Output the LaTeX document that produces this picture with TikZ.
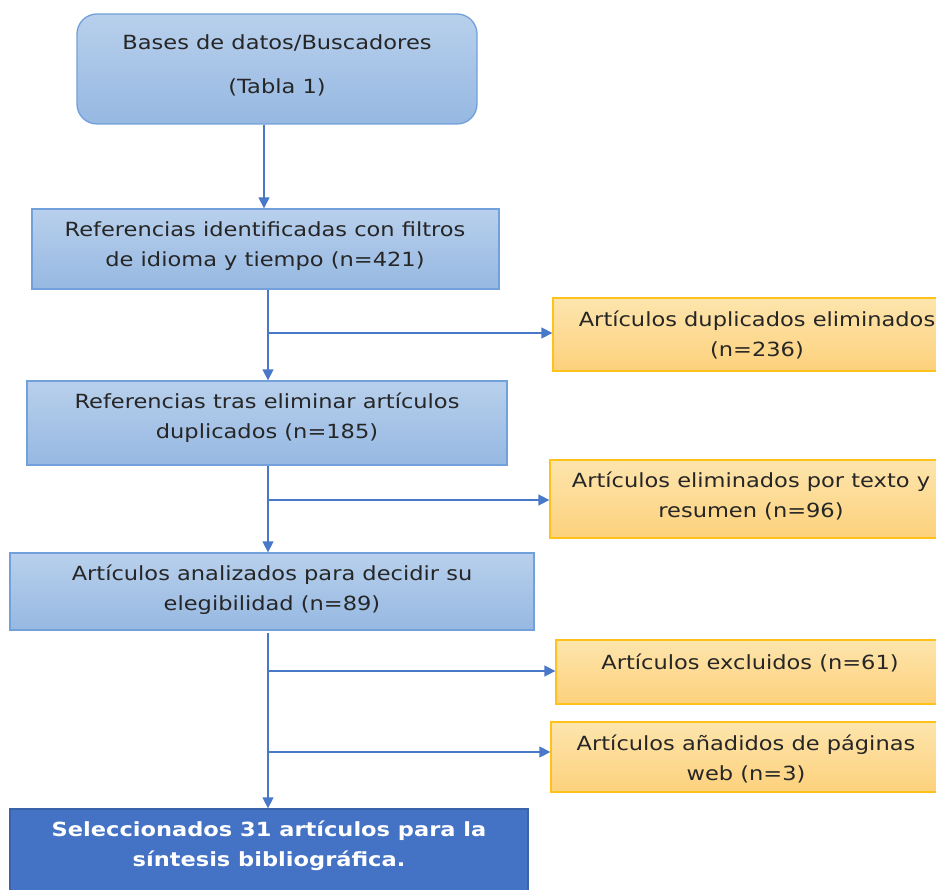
\documentclass[tikz,border=0pt]{standalone}
\usepackage{fontspec}
\setmainfont[FakeStretch=1.155]{DejaVu Sans}
\usetikzlibrary{arrows.meta}
\definecolor{bluefillA}{HTML}{B8D0EC}
\definecolor{bluefillB}{HTML}{96B8E2}
\definecolor{blueline}{HTML}{72A0DA}
\definecolor{orfillA}{HTML}{FDE5AD}
\definecolor{orfillB}{HTML}{FDD17C}
\definecolor{orline}{HTML}{FFC21A}
\definecolor{darkblue}{HTML}{4472C4}
\definecolor{darkline}{HTML}{3B63AA}
\definecolor{arrcol}{HTML}{4A78C8}
\definecolor{txtcol}{HTML}{262626}
\tikzset{
  x=1pt, y=-1pt,
  bluebox/.style={draw=blueline, line width=1.3pt, top color=bluefillA, bottom color=bluefillB, inner sep=0pt},
  orbox/.style={draw=orline, line width=1.3pt, top color=orfillA, bottom color=orfillB, inner sep=0pt},
  finalbox/.style={draw=darkline, line width=1.3pt, fill=darkblue, inner sep=0pt},
  txt/.style={align=center, text=txtcol, font=\fontsize{19.5}{30}\selectfont, inner sep=0pt},
  wtxt/.style={align=center, text=white, font=\fontsize{19.5}{30}\selectfont\bfseries, inner sep=0pt},
  arr/.style={draw=arrcol, line width=1.4pt, -{Triangle[length=11pt,width=11pt]}},
}
\begin{document}
\begin{tikzpicture}
\useasboundingbox (0,0) rectangle (936,890);
\begin{scope}
\clip (0,0) rectangle (936,890);
% boxes
\node[bluebox, rounded corners=20pt, minimum width=400pt, minimum height=110pt] (b1) at (277,69) {};
\node[bluebox, minimum width=467pt, minimum height=80pt] (b2) at (265.5,249) {};
\node[orbox, minimum width=408pt, minimum height=73pt] (o1) at (757,334.5) {};
\node[bluebox, minimum width=480pt, minimum height=84pt] (b3) at (267,423) {};
\node[orbox, minimum width=402pt, minimum height=78pt] (o2) at (751,499) {};
\node[bluebox, minimum width=524pt, minimum height=77pt] (b4) at (272,591.5) {};
\node[orbox, minimum width=388pt, minimum height=64pt] (o3) at (750,672) {};
\node[orbox, minimum width=390pt, minimum height=70pt] (o4) at (746,757) {};
\node[finalbox, minimum width=518pt, minimum height=91pt] (b5) at (269,854.5) {};
% texts
\node[txt, font=\fontsize{19.5}{44}\selectfont] (t1) at (277,65) {Bases de datos/Buscadores\\(Tabla 1)};
\node[txt] (t2) at (265,246) {Referencias identificadas con filtros\\de idioma y tiempo (n=421)};
\node[txt] (t3) at (757,335) {Artículos duplicados eliminados\\(n=236)};
\node[txt] (t4) at (267,418) {Referencias tras eliminar artículos\\duplicados (n=185)};
\node[txt] (t5) at (751,496) {Artículos eliminados por texto y\\resumen (n=96)};
\node[txt] (t6) at (272,590) {Artículos analizados para decidir su\\elegibilidad (n=89)};
\node[txt] (t7) at (750,663) {Artículos excluidos (n=61)};
\node[txt] (t8) at (746,759) {Artículos añadidos de páginas\\web (n=3)};
\node[wtxt] (t9) at (269,846) {Seleccionados 31 artículos para la\\síntesis bibliográfica.};
% connectors
\coordinate (xa) at (264,0);
\coordinate (xs) at (268,0);
\coordinate (y1) at (0,333);
\coordinate (y2) at (0,500);
\coordinate (y3) at (0,671);
\coordinate (y4) at (0,752);
\coordinate (s4) at (268,633);
\draw[arr] (xa |- b1.south) -- (xa |- b2.north);
\draw[arr] (xs |- b2.south) -- (xs |- b3.north);
\draw[arr] (xs |- y1) -- (o1.west |- y1);
\draw[arr] (xs |- b3.south) -- (xs |- b4.north);
\draw[arr] (xs |- y2) -- (o2.west |- y2);
\draw[arr] (s4) -- (xs |- b5.north);
\draw[arr] (xs |- y3) -- (o3.west |- y3);
\draw[arr] (xs |- y4) -- (o4.west |- y4);
\end{scope}
\end{tikzpicture}
\end{document}
